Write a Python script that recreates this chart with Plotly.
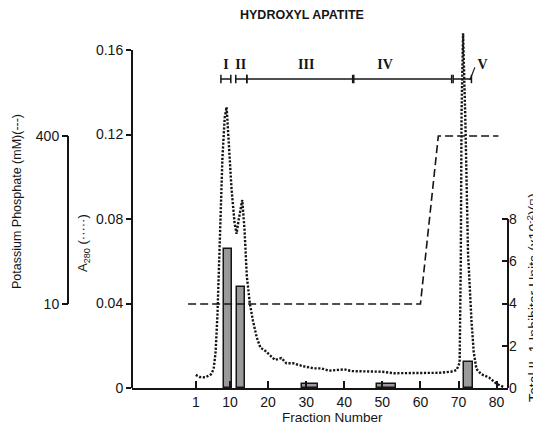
import plotly.graph_objects as go

# ---------------- data ----------------
fraction = [1, 2, 3.5, 5, 5.7, 6.2, 6.7, 7.3, 8, 8.6,
            9.1, 9.6, 10.4, 11.2, 11.7, 12.3, 13.2, 13.8, 14.4, 15.2,
            16, 17, 18, 19, 20.5, 21.8, 23.5, 24.8, 26.6, 29,
            32, 34, 36, 38, 40, 42, 46, 50, 53, 56,
            59, 62, 65, 68, 69.5, 70.3, 70.6, 70.8, 71.2, 71.8,
            72.5, 73.4, 74, 74.7, 76, 78, 80, 82]
a280 = [0.0062, 0.0052, 0.005, 0.0065, 0.009, 0.017, 0.035, 0.07, 0.109, 0.128,
        0.133, 0.118, 0.094, 0.078, 0.073, 0.08, 0.089, 0.075, 0.053, 0.04,
        0.032, 0.024, 0.019, 0.018, 0.0156, 0.0133, 0.0142, 0.0117, 0.0117, 0.0104,
        0.0093, 0.0093, 0.0082, 0.0085, 0.0088, 0.008, 0.0077, 0.0077, 0.007, 0.007,
        0.007, 0.007, 0.0072, 0.0077, 0.0085, 0.012, 0.06, 0.13, 0.168, 0.127,
        0.064, 0.032, 0.017, 0.009, 0.0065, 0.005, 0.002, 0.0003]

phosphate_fraction = [-1, 60, 64.7, 80.5]
phosphate_mM = [10, 10, 400, 400]

bar_fraction = [9.5, 12.9, 31, 51, 72.6]
bar_width = [2.1, 2.0, 4.4, 5.0, 2.4]
inhibitor_units = [6.6, 4.8, 0.2, 0.2, 1.25]

regions = ["I", "II", "III", "IV", "V"]
region_start = [7.6, 11.5, 14.4, 42.5, 68.6]
region_end = [10.2, 14.4, 42.2, 68.2, 73.4]
region_label_x = [8.9, 12.8, 30, 50.7, 76.3]

x_ticks = [1, 10, 20, 30, 40, 50, 60, 70, 80]
a280_ticks = [0, 0.04, 0.08, 0.12, 0.16]
a280_ticktext = ["0", "0.04", "0.08", "0.12", "0.16"]
unit_ticks = [0, 2, 4, 6, 8]
phos_ticks = [10, 400]

# ---------------- layout helpers ----------------
# the page body has an 8px margin, so the figure sits at (8, 8) in the window
OFF = 8
W, H = 541 - OFF, 430 - OFF
PLOT_L, PLOT_R, PLOT_T, PLOT_B = 132, 508, 28, 388   # in window pixels
FIG_L = 40                                           # paper left edge, window px
ML = FIG_L - OFF
MR = 541 - PLOT_R
MT = PLOT_T - OFF
MB = 430 - PLOT_B
PW = W - ML - MR
PH = H - MT - MB


def px_x(px):
    return (px - OFF - ML) / PW


def px_y(py):
    return (H - MB - (py - OFF)) / PH


INK = "#151515"
FONT = "Liberation Sans"
A_TOP = 0.17045
phos_lo, phos_hi = -185.0, 650.7

fig = go.Figure()

# bars (bottom layer, main y axis = inhibitor units, right side)
fig.add_trace(go.Bar(
    x=bar_fraction, y=inhibitor_units, width=bar_width,
    marker=dict(color="#9a9a9a", line=dict(color=INK, width=1.5)),
    xaxis="x", yaxis="y", showlegend=False))

# phosphate gradient (dashed)
fig.add_trace(go.Scatter(
    x=phosphate_fraction, y=phosphate_mM, mode="lines",
    line=dict(color=INK, width=1.6, dash="8px,4px"),
    xaxis="x", yaxis="y2", showlegend=False))

# A280 dotted
fig.add_trace(go.Scatter(
    x=fraction, y=a280, mode="lines",
    line=dict(color=INK, width=2.4, dash="2.2px,1.6px"),
    xaxis="x", yaxis="y3", showlegend=False))

# region bars
REG_Y = 0.1463
for s, e in zip(region_start, region_end):
    fig.add_trace(go.Scatter(
        x=[s, e], y=[REG_Y, REG_Y], mode="lines+markers",
        line=dict(color=INK, width=1.5),
        marker=dict(symbol="line-ns-open", size=6, line=dict(color=INK, width=1.5)),
        xaxis="x", yaxis="y3", showlegend=False))
fig.add_trace(go.Scatter(
    x=region_label_x, y=[0.1525] * len(regions), mode="text",
    text=["<b>%s</b>" % r for r in regions],
    textfont=dict(family="Liberation Serif", size=14, color=INK),
    xaxis="x", yaxis="y3", showlegend=False))
# slash connecting V label to its bar
fig.add_trace(go.Scatter(
    x=[region_end[4] - 0.4, region_end[4] + 0.9], y=[REG_Y - 0.0005, REG_Y + 0.0055],
    mode="lines", line=dict(color=INK, width=1.2),
    xaxis="x", yaxis="y3", showlegend=False))

tickfont = dict(family=FONT, size=14, color=INK)

fig.update_layout(
    width=W, height=H,
    margin=dict(l=ML, r=MR, t=MT, b=MB),
    paper_bgcolor="white", plot_bgcolor="white",
    font=dict(family=FONT, color=INK),
    bargap=0,
    xaxis=dict(domain=[px_x(PLOT_L), 1], range=[-15.75, 83],
               tickvals=x_ticks, ticktext=[str(t) for t in x_ticks],
               ticks="inside", ticklen=7, tickwidth=1.5, tickcolor=INK,
               showline=True, linewidth=2, linecolor=INK,
               showgrid=False, zeroline=False, tickfont=tickfont),
    yaxis=dict(side="right", anchor="x", range=[0, A_TOP * 100],
               tickvals=unit_ticks, ticks="inside", ticklen=6, tickwidth=1.5,
               tickcolor=INK, showline=False, showgrid=False, zeroline=False,
               tickfont=tickfont),
    yaxis2=dict(overlaying="y", anchor="free", position=px_x(68), side="left",
                range=[phos_lo, phos_hi], tickvals=phos_ticks,
                ticks="outside", ticklen=6, tickwidth=1.5, tickcolor=INK,
                showline=False, showgrid=False, zeroline=False, tickfont=tickfont),
    yaxis3=dict(overlaying="y", anchor="x", side="left", range=[0, A_TOP],
                tickvals=a280_ticks, ticktext=a280_ticktext,
                ticks="outside", ticklen=5, tickwidth=1.5, tickcolor=INK,
                showline=False, showgrid=False, zeroline=False, tickfont=tickfont),
)

# axis spines that cover only part of the height
fig.add_shape(type="line", xref="x domain", yref="y3", x0=0, x1=0, y0=0, y1=0.16,
              line=dict(color=INK, width=2))
fig.add_shape(type="line", xref="x domain", yref="y", x0=1, x1=1, y0=0, y1=8,
              line=dict(color=INK, width=2))
fig.add_shape(type="line", xref="paper", yref="y2", x0=px_x(68), x1=px_x(68),
              y0=10, y1=400, line=dict(color=INK, width=2))

ann = [
    dict(text="<b>HYDROXYL APATITE</b>", x=px_x(302), y=px_y(15), size=12.5, angle=0),
    dict(text="Fraction Number", x=px_x(332), y=px_y(417), size=13.5, angle=0),
    dict(text="A<sub>280</sub> (·····)", x=px_x(83), y=px_y(243), size=13, angle=-90),
    dict(text="Potassium Phosphate (mM)(---)", x=px_x(17), y=px_y(202), size=12.5, angle=-90),
    dict(text="Total IL-1 Inhibitor Units (x10<sup>-2</sup>)(▯)", x=px_x(533), y=px_y(298),
         size=14, angle=-90),
]
for a in ann:
    fig.add_annotation(text=a["text"], x=a["x"], y=a["y"], xref="paper", yref="paper",
                       showarrow=False, textangle=a["angle"],
                       xanchor="center", yanchor="middle",
                       font=dict(family=FONT, size=a["size"], color=INK))

fig.write_html("out.html")
